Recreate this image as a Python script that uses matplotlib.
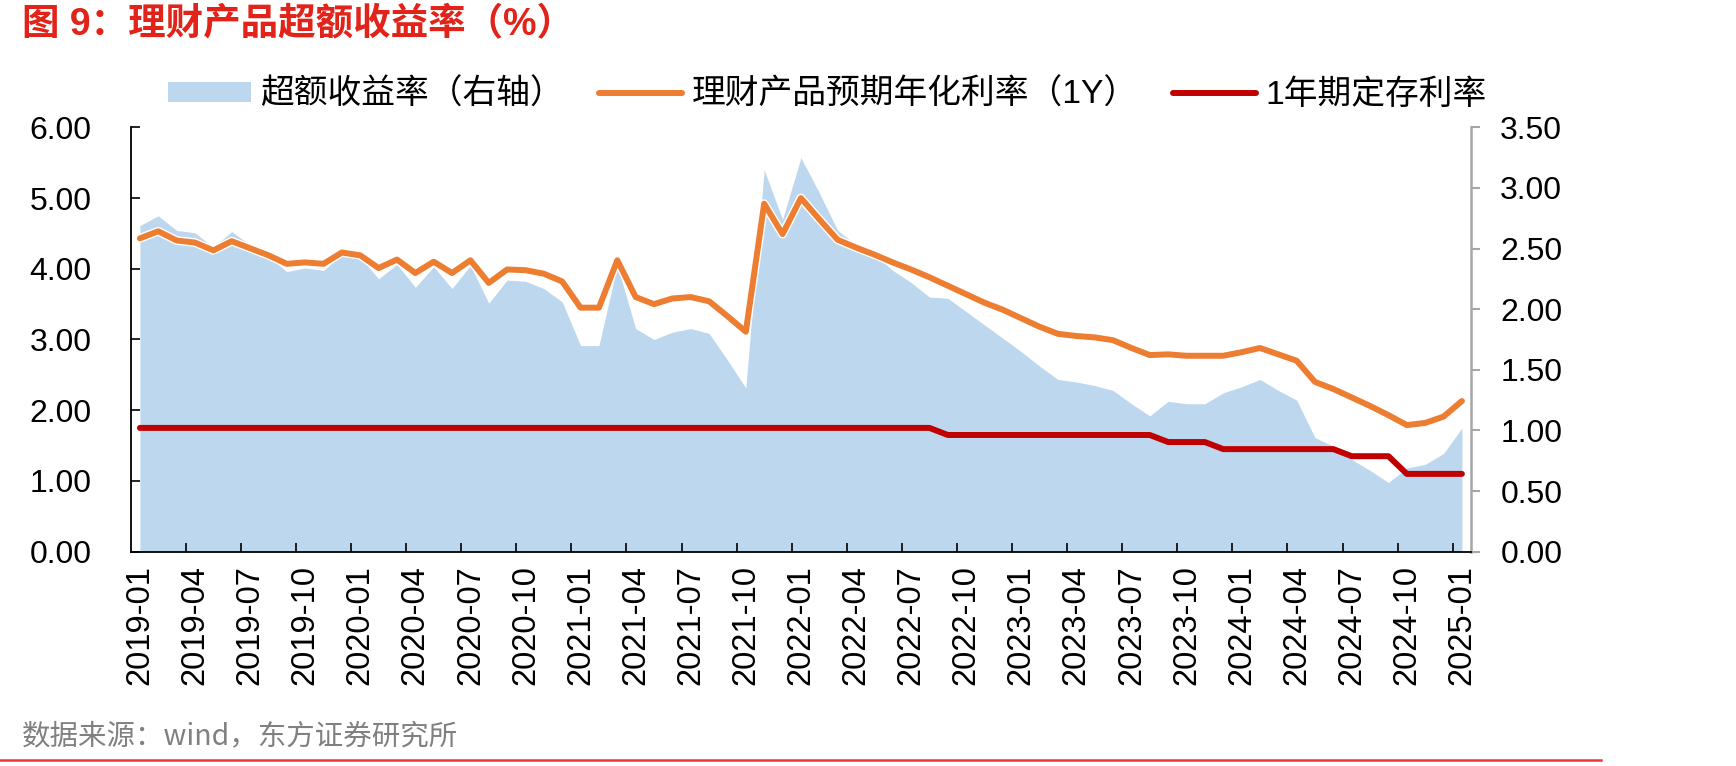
import matplotlib.pyplot as plt
import matplotlib.patheffects as pe
import pandas as pd
from matplotlib.patches import Patch
from matplotlib.lines import Line2D

plt.rcParams['font.family'] = ['Liberation Sans', 'Noto Sans CJK SC']

# monthly, 2019-01 .. 2025-01
months = pd.date_range('2019-01-01', '2025-01-01', freq='MS').strftime('%Y-%m').tolist()

# 超额收益率 (right axis)
excess = [2.69, 2.77, 2.65, 2.63, 2.51, 2.64, 2.53, 2.43, 2.31, 2.34, 2.32, 2.45,
          2.43, 2.25, 2.37, 2.18, 2.35, 2.17, 2.36, 2.05, 2.24, 2.23, 2.17, 2.06,
          1.70, 1.70, 2.36, 1.84, 1.75, 1.81, 1.84, 1.80, 1.58, 1.35, 3.15, 2.74,
          3.25, 2.96, 2.65, 2.53, 2.45, 2.32, 2.22, 2.10, 2.09, 1.98, 1.87, 1.76,
          1.65, 1.53, 1.42, 1.40, 1.37, 1.33, 1.22, 1.12, 1.24, 1.22, 1.22, 1.31,
          1.36, 1.42, 1.33, 1.25, 0.94, 0.87, 0.76, 0.67, 0.57, 0.69, 0.72, 0.81,
          1.02]

# 理财产品预期年化利率（1Y）
wmp_rate = [4.43, 4.53, 4.40, 4.37, 4.26, 4.39, 4.29, 4.19, 4.07, 4.09, 4.07, 4.23,
            4.19, 4.01, 4.13, 3.94, 4.10, 3.94, 4.12, 3.80, 3.99, 3.98, 3.93, 3.82,
            3.45, 3.45, 4.12, 3.60, 3.50, 3.58, 3.60, 3.54, 3.33, 3.11, 4.92, 4.49,
            5.00, 4.70, 4.41, 4.30, 4.20, 4.09, 3.99, 3.88, 3.76, 3.64, 3.52, 3.42,
            3.30, 3.18, 3.08, 3.05, 3.03, 2.99, 2.88, 2.78, 2.79, 2.77, 2.77, 2.77,
            2.82, 2.88, 2.79, 2.70, 2.40, 2.30, 2.18, 2.06, 1.93, 1.79, 1.82, 1.91,
            2.13]

# 1年期定存利率
deposit_1y = [1.75, 1.75, 1.75, 1.75, 1.75, 1.75, 1.75, 1.75, 1.75, 1.75, 1.75, 1.75,
              1.75, 1.75, 1.75, 1.75, 1.75, 1.75, 1.75, 1.75, 1.75, 1.75, 1.75, 1.75,
              1.75, 1.75, 1.75, 1.75, 1.75, 1.75, 1.75, 1.75, 1.75, 1.75, 1.75, 1.75,
              1.75, 1.75, 1.75, 1.75, 1.75, 1.75, 1.75, 1.75, 1.65, 1.65, 1.65, 1.65,
              1.65, 1.65, 1.65, 1.65, 1.65, 1.65, 1.65, 1.65, 1.55, 1.55, 1.55, 1.45,
              1.45, 1.45, 1.45, 1.45, 1.45, 1.45, 1.35, 1.35, 1.35, 1.10, 1.10, 1.10,
              1.10]

left_ticks = [0, 1, 2, 3, 4, 5, 6]
right_ticks = [0, 0.5, 1.0, 1.5, 2.0, 2.5, 3.0, 3.5]

c_area = '#BDD7EE'
c_orange = '#ED7D31'
c_red = '#C00000'

fig = plt.figure(figsize=(17.36, 7.66), dpi=100)
ax = fig.add_axes([0.0753, 0.2798, 0.7721, 0.5540])
ax2 = ax.twinx()

x = list(range(len(months)))

# area on the right-hand axis, lines on top of it
ax2.fill_between(x, excess, 0, color=c_area, lw=0)
ax.plot(x, wmp_rate, color=c_orange, lw=4.3, solid_capstyle='round',
        path_effects=[pe.Stroke(linewidth=6.3, foreground='white'), pe.Normal()])
ax.plot(x, deposit_1y, color=c_red, lw=4.3, solid_capstyle='round')
ax.set_zorder(ax2.get_zorder() + 1)
ax.patch.set_visible(False)

ax.set_xlim(-0.5, len(months) - 0.5)
ax.set_ylim(0, 6)
ax2.set_ylim(0, 3.5)

# spines
for s in ['top', 'right']:
    ax.spines[s].set_visible(False)
for s in ['top', 'left', 'bottom']:
    ax2.spines[s].set_visible(False)
ax.spines['left'].set_linewidth(1.3)
ax.spines['bottom'].set_linewidth(1.3)
ax2.spines['right'].set_color('#A6A6A6')
ax2.spines['right'].set_linewidth(1.8)

# y axes
ax.set_yticks(left_ticks)
ax.set_yticklabels([f'{v:.2f}' for v in left_ticks])
ax.tick_params(axis='y', direction='in', length=6.5, width=1.2, pad=28, labelsize=23)
ax2.set_yticks(right_ticks)
ax2.set_yticklabels([f'{v:.2f}' for v in right_ticks])
ax2.tick_params(axis='y', direction='out', length=6.5, width=1.5, color='#A6A6A6',
                pad=14.5, labelsize=23)

# x axis: labels every 3 months, marks between categories
ax.set_xticks(x[::3])
ax.set_xticklabels(months[::3], rotation=90)
ax.set_xticks([i - 0.5 for i in x[::3]][1:], minor=True)
ax.tick_params(axis='x', which='major', length=0, pad=9.5, labelsize=23.5)
ax.tick_params(axis='x', which='minor', direction='in', length=6.5, width=1.2)

# legend
handles = [Patch(facecolor=c_area, edgecolor='none'),
           Line2D([], [], color=c_orange, lw=4.3, solid_capstyle='round'),
           Line2D([], [], color=c_red, lw=4.3, solid_capstyle='round')]
labels = ['超额收益率（右轴）', '理财产品预期年化利率（1Y）', '1年期定存利率']
fig.legend(handles, labels, loc='center left', bbox_to_anchor=(168 / 1736, 1 - 95 / 766),
           ncol=3, frameon=False, fontsize=24.3, borderpad=0, borderaxespad=0,
           handlelength=2.45, handleheight=0.55, handletextpad=0.28, columnspacing=1.05)

# title, source and the red rule at the bottom
fig.text(22 / 1736, 1 - 25 / 766, '图 9：理财产品超额收益率（%）', color='#E2231A',
         fontsize=27, fontweight='bold', va='center', ha='left')
fig.text(22 / 1736, 1 - 736 / 766, '数据来源：wind，东方证券研究所', color='#808080',
         fontsize=20.5, va='center', ha='left', family=['Noto Sans CJK SC', 'DejaVu Sans'])
fig.add_artist(Line2D([0, 1601 / 1736], [1 - 760 / 766, 1 - 760 / 766],
                      color='#E8383D', lw=1.8))

fig.savefig('out.png', dpi=100)
